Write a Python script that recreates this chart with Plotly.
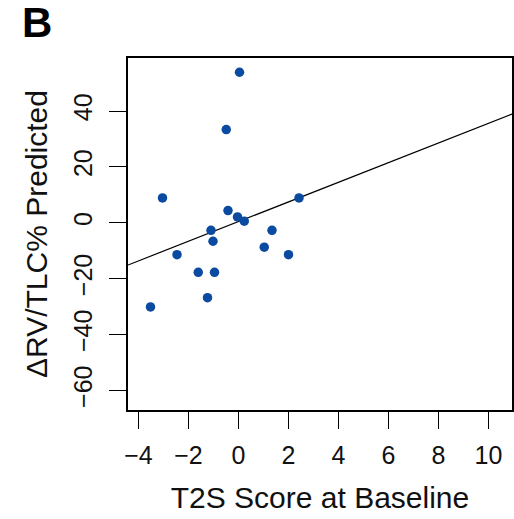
import numpy as np
import plotly.graph_objects as go

# Data
t2s_score = [0.04, -0.49, -3.04, -0.42, -0.04, 0.23, 2.42, -1.10, 1.34, -1.02,
             -2.46, 1.03, 2.00, -1.61, -0.96, -1.24, -3.52]
delta_rv_tlc = [53.9, 33.4, 8.9, 4.4, 2.1, 0.6, 8.9, -2.7, -2.7, -6.6,
                -11.4, -8.7, -11.4, -17.7, -17.7, -26.8, -30.1]

x_ticks = [-4, -2, 0, 2, 4, 6, 8, 10]
y_ticks = [-60, -40, -20, 0, 20, 40]
x_range = [-4.42, 10.94]
y_range = [-67, 59]

def lab(v):
    return str(v).replace("-", "\u2212")

slope, intercept = np.polyfit(t2s_score, delta_rv_tlc, 1)
line_x = np.array(x_range)
line_y = intercept + slope * line_x

FONT = "Liberation Sans, Arial, Helvetica, sans-serif"

fig = go.Figure()
fig.add_trace(go.Scatter(x=line_x, y=line_y, mode="lines",
                         line=dict(color="black", width=1.2),
                         hoverinfo="skip", showlegend=False))
fig.add_trace(go.Scatter(x=t2s_score, y=delta_rv_tlc, mode="markers",
                         marker=dict(color="#0a4aa0", size=9.5, line=dict(width=0)),
                         showlegend=False))

axis_common = dict(showline=True, mirror=True, linecolor="black", linewidth=1.5,
                   ticks="outside", ticklen=17, tickwidth=1.3, tickcolor="black",
                   showgrid=False, zeroline=False,
                   tickfont=dict(family=FONT, size=25, color="#111"))

fig.update_xaxes(range=x_range, tickvals=x_ticks, ticktext=[lab(v) for v in x_ticks],
                 title=dict(text="T2S Score at Baseline",
                            font=dict(family=FONT, size=30, color="#111"), standoff=19),
                 ticklabelstandoff=5, **axis_common)
fig.update_yaxes(range=y_range, tickvals=y_ticks, ticktext=[lab(v) for v in y_ticks],
                 tickangle=-90,
                 title=dict(text="\u0394RV/TLC% Predicted",
                            font=dict(family=FONT, size=30, color="#111"), standoff=13),
                 ticklabelstandoff=7, **axis_common)

fig.add_annotation(text="<b>B</b>", xref="paper", yref="paper",
                   x=-0.28, y=1.1, xanchor="left", yanchor="middle",
                   showarrow=False, font=dict(family=FONT, size=42, color="black"))

fig.update_layout(width=514, height=519,
                  margin=dict(l=128, r=2, t=58, b=109, autoexpand=False),
                  paper_bgcolor="white", plot_bgcolor="white")

fig.write_html("out.html")
